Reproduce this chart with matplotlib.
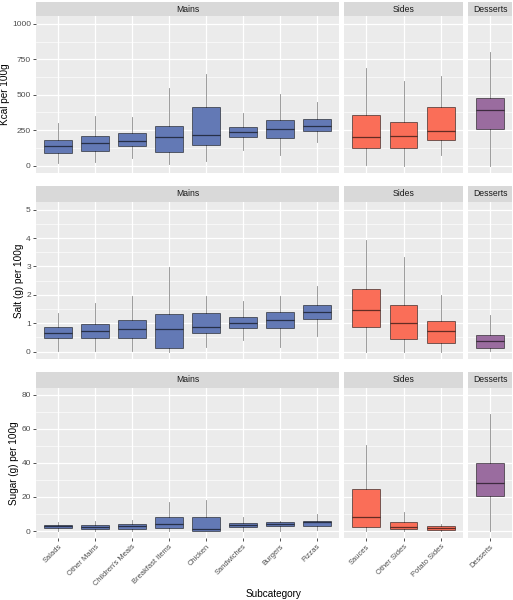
import matplotlib
matplotlib.use("Agg")
import matplotlib.pyplot as plt

plt.rcParams["font.family"] = ["Liberation Sans", "DejaVu Sans"]

# ---------------- data ----------------
groups = ["Mains", "Sides", "Desserts"]
mains = ["Salads", "Other Mains", "Children's Meals", "Breakfast Items",
         "Chicken", "Sandwiches", "Burgers", "Pizzas"]
sides = ["Sauces", "Other Sides", "Potato Sides"]
desserts = ["Desserts"]
group_cats = [mains, sides, desserts]

# Kcal per 100g: whisker low, q1, median, q3, whisker high
kcal_lo  = [16, 28, 52, 12, 35, 111, 75, 167,   5, 0, 73,   0]
kcal_q1  = [92, 104, 141, 99, 148, 202, 198, 247, 122, 122, 184, 261]
kcal_med = [139, 158, 176, 202, 214, 235, 256, 278, 202, 209, 245, 391]
kcal_q3  = [181, 212, 231, 280, 412, 273, 325, 329, 355, 308, 416, 478]
kcal_hi  = [299, 351, 344, 548, 649, 369, 506, 449, 687, 595, 633, 800]

# Salt (g) per 100g
salt_lo  = [0.02, 0.02, 0.02, 0.0, 0.15, 0.41, 0.15, 0.55, 0.0, 0.0, 0.0, 0.02]
salt_q1  = [0.49, 0.47, 0.48, 0.14, 0.67, 0.83, 0.83, 1.16, 0.87, 0.43, 0.31, 0.14]
salt_med = [0.67, 0.72, 0.81, 0.79, 0.86, 1.00, 1.12, 1.41, 1.48, 1.00, 0.73, 0.36]
salt_q3  = [0.86, 0.96, 1.12, 1.31, 1.36, 1.21, 1.40, 1.63, 2.21, 1.65, 1.09, 0.60]
salt_hi  = [1.35, 1.71, 1.97, 2.98, 1.95, 1.77, 1.96, 2.31, 3.93, 3.32, 2.00, 1.30]

# Sugar (g) per 100g
sugar_lo  = [0.2, 0.0, 0.0, 0.0, 0.0, 0.0, 0.2, 0.6, 0.0, 0.0, 0.0, 0.0]
sugar_q1  = [1.8, 1.4, 1.4, 2.0, 0.2, 2.2, 2.9, 3.1, 2.5, 1.0, 0.8, 20.5]
sugar_med = [2.7, 2.5, 2.9, 3.9, 1.2, 3.5, 4.1, 5.1, 8.2, 2.5, 1.6, 28.2]
sugar_q3  = [3.7, 3.5, 4.1, 8.2, 8.0, 4.5, 5.1, 6.1, 24.9, 5.1, 2.7, 40.0]
sugar_hi  = [5.3, 5.7, 6.3, 17.0, 18.0, 8.0, 6.1, 10.0, 50.5, 11.0, 4.1, 69.0]

metrics = [
    ("Kcal per 100g", kcal_lo, kcal_q1, kcal_med, kcal_q3, kcal_hi,
     (-52, 1055), [0, 250, 500, 750, 1000], [125, 375, 625, 875]),
    ("Salt (g) per 100g", salt_lo, salt_q1, salt_med, salt_q3, salt_hi,
     (-0.26, 5.27), [0, 1, 2, 3, 4, 5], [0.5, 1.5, 2.5, 3.5, 4.5]),
    ("Sugar (g) per 100g", sugar_lo, sugar_q1, sugar_med, sugar_q3, sugar_hi,
     (-4.1, 84), [0, 20, 40, 60, 80], [10, 30, 50, 70]),
]

fills = ["#6379B5", "#FA6E58", "#9A6C9F"]

# ---------------- layout (pixels) ----------------
W, H = 513, 600
fig = plt.figure(figsize=(W / 100, H / 100), dpi=100)
fig.patch.set_facecolor("white")

cols_px = [(36, 339), (344, 463), (468, 512)]
rows_px = [((2, 16), (16, 173)), ((186, 202), (202, 359)), ((372, 388), (388, 538))]
ylabel_x = [5.5, 19.5, 14]


def rect(x0, x1, y0, y1):
    return [x0 / W, 1 - y1 / H, (x1 - x0) / W, (y1 - y0) / H]


edge = (0, 0, 0, 0.6)
whisk = (0, 0, 0, 0.45)
tick_col = "#4D4D4D"

for r, (ylab, lo, q1, med, q3, hi, ylim, majors, minors) in enumerate(metrics):
    (sy0, sy1), (py0, py1) = rows_px[r]
    start = 0
    for c, cats in enumerate(group_cats):
        x0, x1 = cols_px[c]
        ax = fig.add_axes(rect(x0, x1, py0, py1))
        ax.set_facecolor("#EBEBEB")
        n = len(cats)
        stats = []
        for i in range(n):
            k = start + i
            stats.append(dict(whislo=lo[k], q1=q1[k], med=med[k], q3=q3[k],
                              whishi=hi[k], fliers=[], label=cats[i]))
        start += n
        positions = list(range(1, n + 1))
        ax.bxp(stats, positions=positions, widths=0.75, patch_artist=True,
               showcaps=False, showfliers=False,
               boxprops=dict(facecolor=fills[c], edgecolor=edge, linewidth=0.6),
               medianprops=dict(color=edge, linewidth=0.9),
               whiskerprops=dict(color=whisk, linewidth=0.6),
               zorder=3)
        ax.set_xlim(0.4, n + 0.6)
        ax.set_ylim(*ylim)
        ax.set_yticks(majors)
        ax.set_yticks(minors, minor=True)
        ax.set_xticks(positions)
        ax.grid(True, which="major", color="white", linewidth=0.9, zorder=0)
        ax.grid(True, which="minor", axis="y", color="white", linewidth=0.45, zorder=0)
        ax.set_axisbelow(True)
        for s in ax.spines.values():
            s.set_visible(False)
        ax.tick_params(axis="both", which="minor", length=0)
        ax.tick_params(axis="both", which="major", length=2.2, width=0.6,
                       color="#333333", labelsize=6, labelcolor=tick_col, pad=1.5)
        if c == 0:
            ax.set_yticklabels([str(v) for v in majors])
        else:
            ax.tick_params(axis="y", which="major", length=0, labelleft=False)
        if r == 2:
            ax.set_xticklabels(cats, rotation=45, ha="right", va="top",
                               rotation_mode="anchor", fontsize=5.4, color=tick_col)
        else:
            ax.tick_params(axis="x", which="major", length=0, labelbottom=False)

        # strip
        sax = fig.add_axes(rect(x0, x1, sy0, sy1))
        sax.set_facecolor("#D9D9D9")
        sax.set_xticks([])
        sax.set_yticks([])
        for s in sax.spines.values():
            s.set_visible(False)
        sax.text(0.5, 0.5, groups[c], ha="center", va="center",
                 fontsize=6.2, color="#1A1A1A", transform=sax.transAxes)

    fig.text(ylabel_x[r] / W, 1 - ((py0 + py1) / 2) / H, ylab, rotation=90,
             ha="center", va="center", fontsize=7.2, color="black")

fig.text(274 / W, 1 - 594 / H, "Subcategory", ha="center", va="center",
         fontsize=7.2, color="black")

fig.savefig("out.png", dpi=100, facecolor="white")
